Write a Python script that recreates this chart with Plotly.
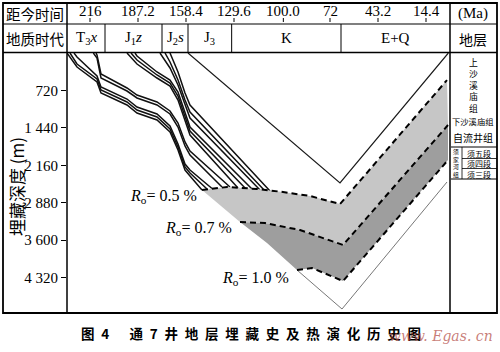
import plotly.graph_objects as go

# ---------------- data ----------------
age_ticks = [216, 187.2, 158.4, 129.6, 100.0, 72, 43.2, 14.4]
age_tick_text = ["216", "187.2", "158.4", "129.6", "100.0", "72", "43.2", "14.4"]
depth_ticks = [720, 1440, 2160, 2880, 3600, 4320]
depth_tick_text = ["720", "1 440", "2 160", "2 880", "3 600", "4 320"]

period_names = ["T<sub>3</sub><i>x</i>", "J<sub>1</sub><i>z</i>", "J<sub>2</sub><i>s</i>",
                "J<sub>3</sub>", "K", "E+Q"]
period_bounds = [229.8, 207.0, 172.8, 157.2, 131.0, 65.4, 0.0]

# burial-history horizons (age in Ma, depth in m)
h_a1_age = [229.8, 223.8, 211.8, 209.4, 193.8, 187.8, 175.8, 168.0, 163.2, 159.0, 156.0, 148.8]
h_a1_dep = [0, 269, 558, 769, 1000, 1154, 1288, 1519, 1865, 2250, 2365, 2635]
h_a2_age = [228.0, 223.8, 211.8, 209.4, 193.8, 187.8, 175.8, 168.0, 163.2, 159.0, 156.0, 145.8]
h_a2_dep = [0, 212, 500, 712, 942, 1096, 1231, 1462, 1808, 2192, 2308, 2615]
h_a3_age = [225.6, 223.8, 211.8, 209.4, 193.8, 187.8, 175.8, 168.0, 163.2, 159.0, 156.0, 142.8]
h_a3_dep = [0, 77, 442, 654, 885, 1038, 1173, 1404, 1750, 2135, 2250, 2606]
h_b1_age = [214.0, 211.8, 209.4, 193.8, 187.8, 175.8, 168.0, 163.2, 159.0, 156.0, 136.8]
h_b1_dep = [0, 96, 481, 731, 865, 1000, 1173, 1423, 1788, 1962, 2577]
h_b2_age = [212.4, 211.8, 209.4, 193.8, 187.8, 175.8, 168.0, 163.2, 159.0, 156.0, 132.0]
h_b2_dep = [0, 38, 404, 673, 808, 942, 1115, 1346, 1711, 1885, 2577]
h_c1_age = [193.8, 187.8, 175.8, 168.0, 163.2, 159.0, 156.0, 127.2]
h_c1_dep = [0, 212, 481, 635, 904, 1288, 1577, 2596]
h_c2_age = [191.4, 187.8, 175.8, 168.0, 163.2, 159.0, 156.0, 122.4]
h_c2_dep = [0, 135, 423, 577, 827, 1211, 1500, 2615]
h_c3_age = [189.0, 187.8, 175.8, 168.0, 163.2, 159.0, 156.0, 118.2]
h_c3_dep = [0, 58, 365, 519, 750, 1135, 1423, 2635]
h_d1_age = [174.0, 168.0, 163.2, 159.0, 156.0, 114.0]
h_d1_dep = [0, 288, 615, 1000, 1250, 2635]
h_d2_age = [171.0, 168.0, 163.2, 159.0, 156.0, 111.0]
h_d2_dep = [0, 173, 519, 904, 1135, 2654]
h_d3_age = [168.0, 163.2, 159.0, 156.0, 108.0]
h_d3_dep = [0, 365, 769, 1000, 2654]
h_top_age = [157.2, 66.0, 1.0]
h_top_dep = [0, 2500, 0]

basement_age = [148.8, 126.0, 109.8, 91.8, 64.8, 1.8]
basement_dep = [2635, 3250, 3654, 4173, 4923, 2481]

ro05_age = [148.8, 133.8, 115.8, 100.2, 84.0, 66.0, 1.8]
ro05_dep = [2635, 2577, 2615, 2673, 2750, 2904, 520]
ro07_age = [126.0, 111.0, 90.0, 64.2, 1.2]
ro07_dep = [3250, 3269, 3404, 3692, 1385]
ro10_age = [91.8, 82.8, 64.2, 1.2]
ro10_dep = [4173, 4135, 4385, 2058]

ro_labels = ["<i>R</i><sub>o</sub>= 0.5 %", "<i>R</i><sub>o</sub>= 0.7 %", "<i>R</i><sub>o</sub>= 1.0 %"]

strata_upper = "上沙溪庙组"
strata_xu = "须家河组"

# ---------------- layout helpers ----------------
W, H = 500, 352
PL, PR, PT, PB = 67, 450, 53, 313


def px(x):
    return (x - PL) / (PR - PL)


def py(y):
    return (PB - y) / (PB - PT)


SERIF = "Liberation Serif, Times New Roman, serif"
CJK = "Noto Sans CJK SC, sans-serif"

fig = go.Figure()

LIGHT = "#c6c6c6"
DARK = "#9e9e9e"

horizons = [
    (h_a1_age, h_a1_dep), (h_a2_age, h_a2_dep), (h_a3_age, h_a3_dep),
    (h_b1_age, h_b1_dep), (h_b2_age, h_b2_dep),
    (h_c1_age, h_c1_dep), (h_c2_age, h_c2_dep), (h_c3_age, h_c3_dep),
    (h_d1_age, h_d1_dep), (h_d2_age, h_d2_dep), (h_d3_age, h_d3_dep),
]
for a, d in horizons:
    fig.add_trace(go.Scatter(x=a, y=d, mode="lines",
                             line=dict(color="#111111", width=1.5),
                             hoverinfo="skip", showlegend=False))

fig.add_trace(go.Scatter(x=h_top_age, y=h_top_dep, mode="lines",
                         line=dict(color="#1a1a1a", width=1.2),
                         hoverinfo="skip", showlegend=False))

# light gray zone (0.5 - 0.7)
fig.add_trace(go.Scatter(x=ro05_age + ro07_age[::-1], y=ro05_dep + ro07_dep[::-1],
                         mode="lines", fill="toself", fillcolor=LIGHT,
                         line=dict(width=0), hoverinfo="skip", showlegend=False))
# dark gray zone (0.7 - 1.0)
fig.add_trace(go.Scatter(x=ro07_age + ro10_age[::-1] + [basement_age[2]],
                         y=ro07_dep + ro10_dep[::-1] + [basement_dep[2]],
                         mode="lines", fill="toself", fillcolor=DARK,
                         line=dict(width=0), hoverinfo="skip", showlegend=False))

# basement thin line (visible part)
fig.add_trace(go.Scatter(x=basement_age[3:], y=basement_dep[3:], mode="lines",
                         line=dict(color="#777777", width=1),
                         hoverinfo="skip", showlegend=False))

for a, d in [(ro05_age, ro05_dep), (ro07_age, ro07_dep), (ro10_age, ro10_dep)]:
    fig.add_trace(go.Scatter(x=a, y=d, mode="lines",
                             line=dict(color="black", width=2, dash="6px,4px"),
                             hoverinfo="skip", showlegend=False))

shapes = []


def hline(y, x0, x1, w=1.2):
    shapes.append(dict(type="line", xref="paper", yref="paper", x0=px(x0), x1=px(x1),
                       y0=py(y), y1=py(y), line=dict(color="black", width=w)))


def vline(x, y0, y1, w=1.2):
    shapes.append(dict(type="line", xref="paper", yref="paper", x0=px(x), x1=px(x),
                       y0=py(y0), y1=py(y1), line=dict(color="black", width=w)))


# outer frame
shapes.append(dict(type="rect", xref="paper", yref="paper", x0=px(3), x1=px(497),
                   y0=py(313), y1=py(3), line=dict(color="black", width=1.8)))
hline(24, 3, 497)
hline(52.5, 3, 497, 1.5)
vline(67, 3, 313, 1.5)
vline(450, 3, 313, 1.5)
# period dividers in header row 2
for b in period_bounds[1:-1]:
    shapes.append(dict(type="line", xref="x", yref="paper", x0=b, x1=b,
                       y0=py(52.5), y1=py(24), line=dict(color="black", width=1)))
# age ticks in header row 1
for t in age_ticks:
    shapes.append(dict(type="line", xref="x", yref="paper", x0=t, x1=t,
                       y0=py(22), y1=py(18), line=dict(color="black", width=1)))
# right column table
hline(147, 451, 497, 1)
hline(158.5, 462, 497, 0.8)
hline(168.5, 462, 497, 0.8)
hline(179, 451, 497, 1)
vline(462, 147, 179, 0.8)

ann = []


def text(x, y, s, size, font=SERIF, xref="paper", **kw):
    ann.append(dict(x=px(x) if xref == "paper" else x, y=py(y), xref=xref, yref="paper",
                    text=s, showarrow=False, font=dict(size=size, family=font, color="black"),
                    xanchor=kw.pop("xanchor", "center"), yanchor=kw.pop("yanchor", "middle"),
                    borderpad=0, **kw))


text(35, 13, "距今时间", 14.5, CJK)
text(35, 39, "地质时代", 14.5, CJK)
text(473, 13, "(Ma)", 15)
text(473, 39, "地层", 14, CJK)
for t, s in zip(age_ticks, age_tick_text):
    text(t, 11, s, 15, xref="x")
for i, s in enumerate(period_names):
    c = (period_bounds[i] + period_bounds[i + 1]) / 2
    text(c, 38, s, 15, xref="x")

text(16, 187, "埋藏深度 (m)", 17, CJK, textangle=-90)

text(473, 85, "<br>".join(strata_upper), 8.8, CJK)
text(473, 121, "下沙溪庙组", 8.3, CJK)
text(473, 137, "自流井组", 10, CJK)
text(456.5, 163, "<br>".join(strata_xu), 5.8, CJK)
text(478.5, 153.5, "须五段", 8, CJK)
text(478.5, 163.5, "须四段", 8, CJK)
text(478.5, 174, "须三段", 8, CJK)

text(163, 196, ro_labels[0], 16)
text(198, 228, ro_labels[1], 16)
text(255, 278, ro_labels[2], 16)

text(251, 333, "图\u20024\u2003\u2002通\u20027\u2002井\u2002地\u2002层\u2002埋\u2002藏\u2002史\u2002及\u2002热\u2002演\u2002化\u2002历\u2002史\u2002图",
     13.5, CJK)
ann[-1]["font"]["weight"] = "bold"
text(494, 336, "<i>www. Egas. cn</i>", 14, "DejaVu Serif, serif", xanchor="right")
ann[-1]["font"]["color"] = "rgba(176,70,60,0.7)"

fig.update_layout(
    width=W, height=H,
    margin=dict(l=PL, r=W - PR, t=PT, b=H - PB, pad=0),
    paper_bgcolor="white", plot_bgcolor="white",
    xaxis=dict(range=[229.8, 0], showgrid=False, zeroline=False, showticklabels=False,
               ticks="", showline=False),
    yaxis=dict(range=[5000, 0], showgrid=False, zeroline=False,
               tickvals=depth_ticks, ticktext=depth_tick_text, ticks="outside", ticklen=5,
               tickcolor="black", tickwidth=1,
               tickfont=dict(family=SERIF, size=15, color="black"), showline=False),
    shapes=shapes, annotations=ann, showlegend=False,
)

fig.write_html("out.html")
